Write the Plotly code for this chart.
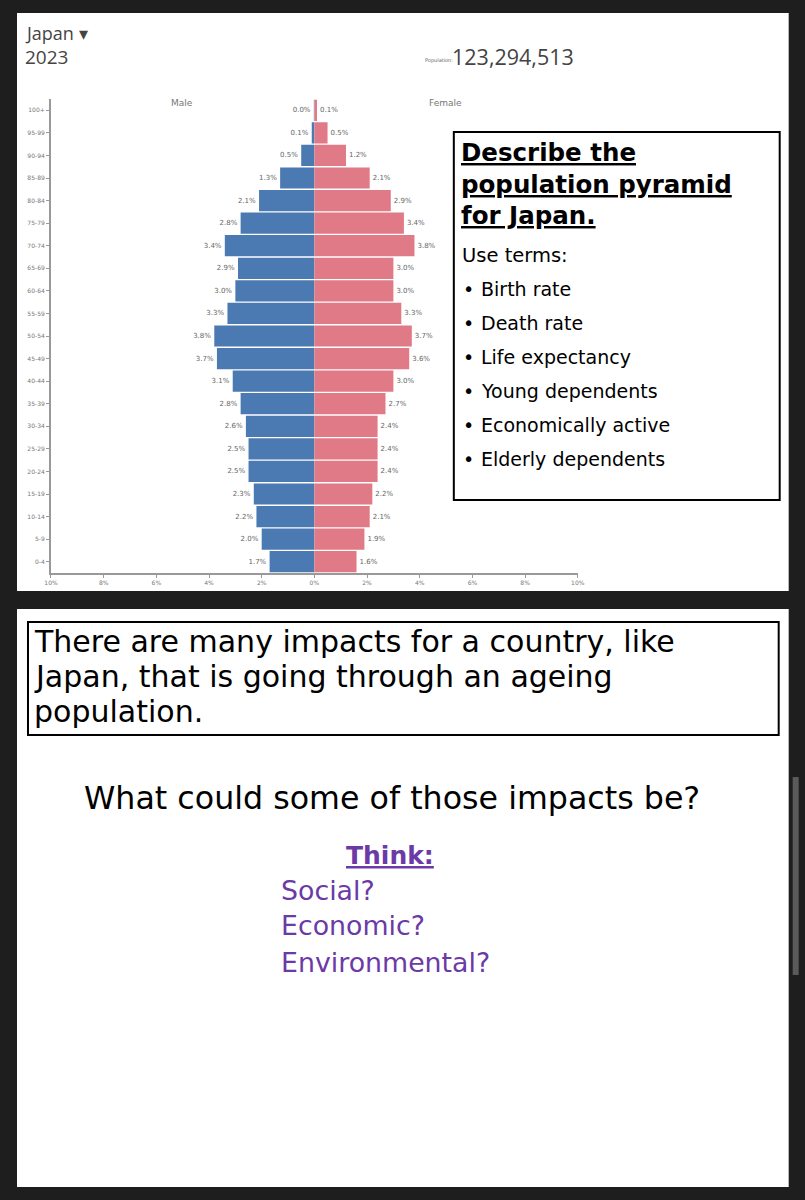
import plotly.graph_objects as go

W, H = 805, 1200

age_groups = ["0-4", "5-9", "10-14", "15-19", "20-24", "25-29", "30-34", "35-39",
              "40-44", "45-49", "50-54", "55-59", "60-64", "65-69", "70-74",
              "75-79", "80-84", "85-89", "90-94", "95-99", "100+"]
male_pct = [1.7, 2.0, 2.2, 2.3, 2.5, 2.5, 2.6, 2.8, 3.1, 3.7, 3.8, 3.3, 3.0, 2.9, 3.4,
            2.8, 2.1, 1.3, 0.5, 0.1, 0.02]
female_pct = [1.6, 1.9, 2.1, 2.2, 2.4, 2.4, 2.4, 2.7, 3.0, 3.6, 3.7, 3.3, 3.0, 3.0, 3.8,
              3.4, 2.9, 2.1, 1.2, 0.5, 0.1]
x_tickvals = [-10, -8, -6, -4, -2, 0, 2, 4, 6, 8, 10]
x_ticktext = ["10%", "8%", "6%", "4%", "2%", "0%", "2%", "4%", "6%", "8%", "10%"]

country = "Japan"
year = "2023"
population = "123,294,513"
box_title = ["Describe the", "population pyramid", "for Japan."]
box_terms = ["Birth rate", "Death rate", "Life expectancy", "Young dependents",
             "Economically active", "Elderly dependents"]
impact_lines = ["There are many impacts for a country, like",
                "Japan, that is going through an ageing",
                "population."]
question = "What could some of those impacts be?"
think_items = ["Social?", "Economic?", "Environmental?"]

BLUE = "#4b7ab3"
PINK = "#e07a86"
PURPLE = "#6b3aa6"
FONT = "DejaVu Sans"

# observed horizontal placement of the rendered page: x_screen = 0.983 * x_paper + 6
SX, OX = 0.983, 6.0


def px(x):
    return ((x - OX) / SX) / W


def py(y):
    return 1 - y / H


fig = go.Figure()
fig.add_trace(go.Bar(
    y=age_groups, x=[-v for v in male_pct], orientation="h", name="Male",
    marker=dict(color=BLUE, line=dict(width=0)),
    text=[("%.1f%%" % v) for v in male_pct], textposition="outside",
    textfont=dict(size=7, color="#666", family=FONT), cliponaxis=False,
    hoverinfo="skip"))
fig.add_trace(go.Bar(
    y=age_groups, x=female_pct, orientation="h", name="Female",
    marker=dict(color=PINK, line=dict(width=0)),
    text=[("%.1f%%" % v) for v in female_pct], textposition="outside",
    textfont=dict(size=7, color="#666", family=FONT), cliponaxis=False,
    hoverinfo="skip"))

shapes = []
# slide backgrounds
shapes.append(dict(type="rect", xref="paper", yref="paper", x0=px(16), x1=px(788),
                   y0=py(591), y1=py(13), fillcolor="white", line=dict(width=0), layer="below"))
shapes.append(dict(type="rect", xref="paper", yref="paper", x0=px(16), x1=px(788),
                   y0=py(1187), y1=py(609), fillcolor="white", line=dict(width=0), layer="below"))
# description box
shapes.append(dict(type="rect", xref="paper", yref="paper", x0=px(453), x1=px(779),
                   y0=py(500), y1=py(132), fillcolor="white", line=dict(color="black", width=2)))
# impacts box
shapes.append(dict(type="rect", xref="paper", yref="paper", x0=px(27), x1=px(778),
                   y0=py(735), y1=py(622), fillcolor="rgba(0,0,0,0)", line=dict(color="black", width=2)))
# scrollbar
shapes.append(dict(type="rect", xref="paper", yref="paper", x0=px(792), x1=px(798),
                   y0=py(975), y1=py(777), fillcolor="#5a5a5a", line=dict(width=0)))

ann = []


def text(x, y, s, size, color="black", anchor="left", family=FONT):
    ann.append(dict(x=px(x), y=py(y), xref="paper", yref="paper", text=s, showarrow=False,
                    xanchor=anchor, yanchor="middle", font=dict(size=size, color=color, family=family)))


text(22, 33, country + " ▾", 18, "#444", family="Open Sans")
text(22, 57, year, 19, "#444", family="Open Sans")
text(422, 60, "Population:", 5, "#666")
text(449, 57, population, 21.5, "#444", family="Open Sans")
text(181, 103, "Male", 9, "#777", "center")
text(426, 103, "Female", 9, "#777")

for i, s in enumerate(box_title):
    text(458, 153 + i * 31, "<b><u>" + s + "</u></b>", 24.5)
text(459, 255, "Use terms:", 19.5)
for i, s in enumerate(box_terms):
    text(468, 289 + i * 34, "•", 19, anchor="center")
    text(478, 289 + i * 34, s, 19)

for i, s in enumerate(impact_lines):
    text(31, 641 + i * 35, s, 30)
text(391, 798, question, 31.7, anchor="center")
text(389, 855, "<b><u>Think:</u></b>", 25, PURPLE, "center")
for i, s in enumerate(think_items):
    text(278, 890 + i * 36, s, 26.8, PURPLE)

fig.update_layout(
    width=W, height=H, autosize=False, margin=dict(l=0, r=0, t=0, b=0),
    paper_bgcolor="#1e1e1e", plot_bgcolor="white",
    barmode="overlay", bargap=0.06, showlegend=False,
    shapes=shapes, annotations=ann,
    xaxis=dict(domain=[px(50), px(577)], range=[-10, 10], tickvals=x_tickvals, ticktext=x_ticktext,
               showgrid=False, zeroline=False, showline=True, linecolor="#999", linewidth=2,
               ticks="outside", ticklen=3, tickcolor="#999",
               tickfont=dict(size=6, color="#777", family=FONT), fixedrange=True),
    yaxis=dict(domain=[py(573), py(99)], range=[-0.5, 20.5], type="category",
               showgrid=False, zeroline=False, showline=True, linecolor="#999", linewidth=2,
               ticks="outside", ticklen=3, tickcolor="#999",
               tickfont=dict(size=6, color="#777", family=FONT), fixedrange=True),
)

fig.write_html("out.html",
               config={"responsive": False, "displayModeBar": False, "staticPlot": True},
               post_script="document.body.style.margin='0';document.body.style.overflow='hidden';")
